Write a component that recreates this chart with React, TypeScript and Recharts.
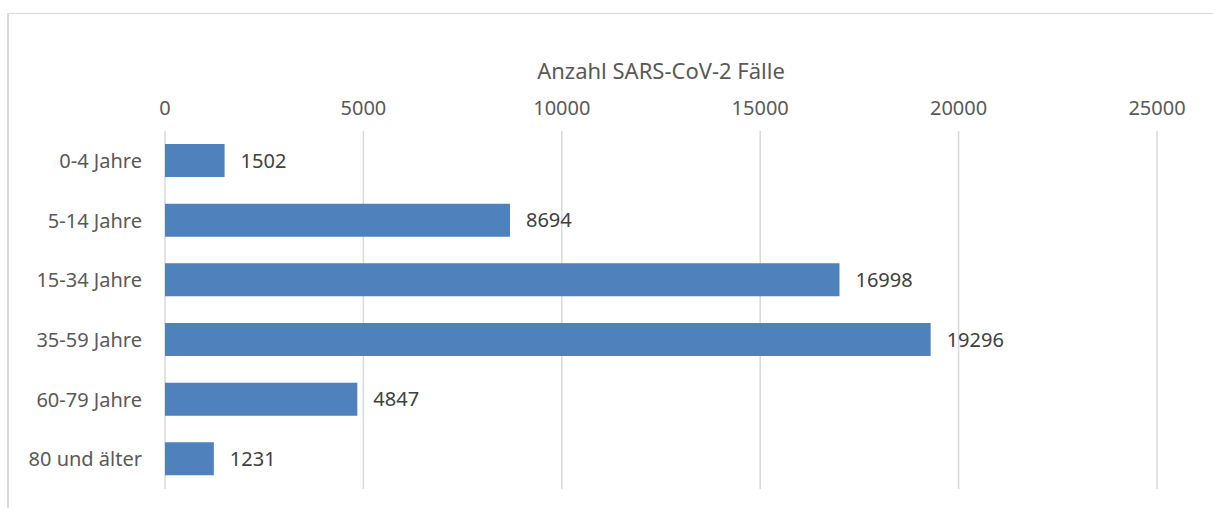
import { BarChart, Bar, XAxis, YAxis, CartesianGrid, LabelList } from "recharts";

const ageGroups = ["0-4 Jahre", "5-14 Jahre", "15-34 Jahre", "35-59 Jahre", "60-79 Jahre", "80 und älter"];
const cases = [1502, 8694, 16998, 19296, 4847, 1231];
const xTicks = [0, 5000, 10000, 15000, 20000, 25000];

const data = ageGroups.map((group, i) => ({ group, cases: cases[i] }));

const FONT = "'Noto Sans', 'Open Sans', sans-serif";
const TEXT = "#595959";

export default function App() {
  return (
    <div style={{ position: "fixed", left: 0, top: 0, width: 1213, height: 508, overflow: "hidden", background: "#fff" }}>
      <BarChart
        width={1213}
        height={508}
        data={data}
        layout="vertical"
        barSize={33}
        margin={{ top: 101, right: 56, bottom: 19, left: 0 }}
      >
        <CartesianGrid horizontal={false} stroke="#d9d9d9" strokeWidth={1.5} />
        <XAxis
          type="number"
          orientation="top"
          domain={[0, 25000]}
          ticks={xTicks}
          height={30}
          axisLine={false}
          tickLine={false}
          tickMargin={10}
          tick={{ fill: TEXT, fontSize: 20, fontFamily: FONT }}
          label={{
            value: "Anzahl SARS-CoV-2 Fälle",
            position: "top",
            offset: 22,
            fill: TEXT,
            fontSize: 22,
            fontFamily: FONT,
          }}
        />
        <YAxis
          type="category"
          dataKey="group"
          width={165}
          axisLine={false}
          tickLine={false}
          tickMargin={17}
          tick={{ fill: TEXT, fontSize: 20, fontFamily: FONT }}
        />
        <Bar dataKey="cases" fill="#4f81bd" isAnimationActive={false}>
          <LabelList
            dataKey="cases"
            position="right"
            offset={16}
            fill="#404040"
            fontSize={20}
            fontFamily={FONT}
          />
        </Bar>
      </BarChart>
      <div
        style={{
          position: "absolute",
          left: 7,
          top: 13,
          width: 1300,
          height: 600,
          borderLeft: "2px solid #d9d9d9",
          borderTop: "1px solid #d9d9d9",
          pointerEvents: "none",
        }}
      />
    </div>
  );
}
